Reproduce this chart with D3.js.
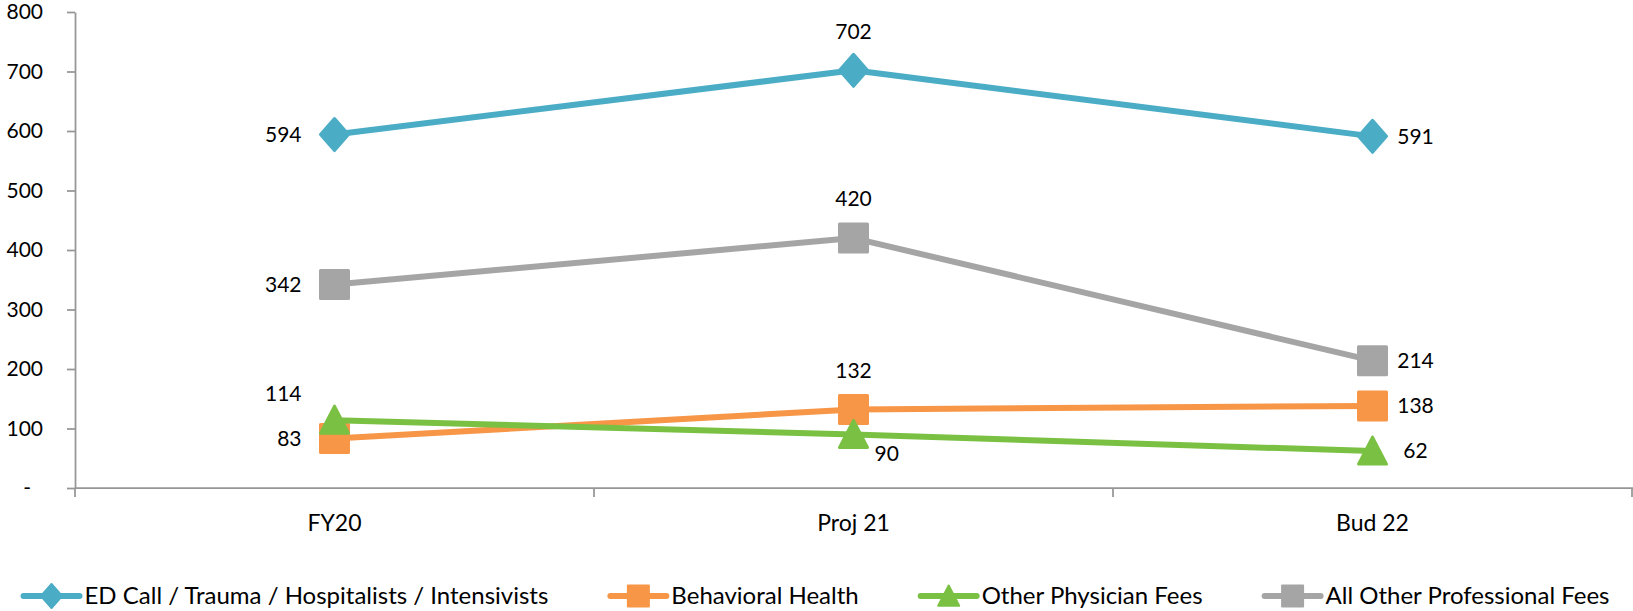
<!DOCTYPE html>
<html>
<head>
  <title>Professional Fees</title>
  <script src="https://d3js.org/d3.v7.min.js"></script>
  <style type="text/css">
    body {
      margin: 0;
      background-color: #ffffff;
    }
    svg text {
      font-family: Lato, "Open Sans", sans-serif;
      font-size: 21px;
      fill: #000000;
    }
    .axis path, .axis line {
      stroke: #969696;
      stroke-width: 1.75px;
    }
    .xlabel { font-size: 23px; }
    .legend text { font-size: 24px; }
  </style>
</head>
<body>
<div id="chart"></div>

<script>
  // data
  var categories = ["FY20", "Proj 21", "Bud 22"];
  var seriesNames = ["ED Call / Trauma / Hospitalists / Intensivists", "Behavioral Health", "Other Physician Fees", "All Other Professional Fees"];
  var edCall = [594, 702, 591];
  var behavioral = [83, 132, 138];
  var otherPhysician = [114, 90, 62];
  var allOther = [342, 420, 214];
  var yTicks = [0, 100, 200, 300, 400, 500, 600, 700, 800];

  var seriesValues = [edCall, behavioral, otherPhysician, allOther];
  var colors = ["#4BACC6", "#F79646", "#7AC143", "#A5A5A5"];
  var shapes = ["diamond", "square", "triangle", "square"];
  // where each data label sits relative to its point
  var labelPos = [
    ["left", "above", "right"],
    ["left", "above", "right"],
    ["upleft", "downright", "right"],
    ["left", "above", "right"]
  ];

  var width = 1633, height = 611;
  var svg = d3.select("#chart").append("svg").attr("width", width).attr("height", height);

  var x = d3.scaleBand().domain(categories).range([75, 1632]);
  var y = d3.scaleLinear().domain([0, 800]).range([488, 12]);

  // marker paths, centred on 0,0
  function markerPath(shape, s) {
    if (shape === "diamond") {
      return "M0," + (-16 * s) + "L" + (14 * s) + ",0L0," + (16 * s) + "L" + (-14 * s) + ",0Z";
    } else if (shape === "square") {
      return "M" + (-14 * s) + "," + (-14 * s) + "H" + (14 * s) + "V" + (14 * s) + "H" + (-14 * s) + "Z";
    } else {
      return "M0," + (-14 * s) + "L" + (14 * s) + "," + (13 * s) + "H" + (-14 * s) + "Z";
    }
  }

  // y axis
  var yAxis = svg.append("g").attr("class", "axis").attr("transform", "translate(75,0)")
    .call(d3.axisLeft(y).tickValues(yTicks).tickSize(8).tickSizeOuter(0).tickPadding(24)
      .tickFormat(function (d) { return d === 0 ? "-" : d; }));
  yAxis.selectAll("text").attr("x", function (d) { return d === 0 ? -44 : -32; });

  // x axis: line, ticks at category boundaries, labels at centres
  var xAxis = svg.append("g").attr("class", "axis").attr("transform", "translate(0,488)");
  xAxis.append("line").attr("x1", 75).attr("x2", 1633).attr("y1", 0).attr("y2", 0);
  var bounds = categories.map(function (c) { return x(c); }).concat([x(categories[2]) + x.bandwidth()]);
  xAxis.selectAll(".btick").data(bounds).enter().append("line")
    .attr("x1", function (d) { return d; }).attr("x2", function (d) { return d; })
    .attr("y1", 0).attr("y2", 9);
  xAxis.selectAll(".xlabel").data(categories).enter().append("text")
    .attr("class", "xlabel")
    .attr("x", function (d) { return x(d) + x.bandwidth() / 2; })
    .attr("y", 35).attr("dy", "0.35em").attr("text-anchor", "middle")
    .text(function (d) { return d; });

  var cx = function (i) { return x(categories[i]) + x.bandwidth() / 2; };

  var line = d3.line()
    .x(function (d, i) { return cx(i); })
    .y(function (d) { return y(d); });

  // series
  seriesValues.forEach(function (vals, s) {
    var g = svg.append("g");
    g.append("path").datum(vals).attr("d", line)
      .attr("fill", "none").attr("stroke", colors[s]).attr("stroke-width", 6).attr("stroke-linejoin", "round");
    g.selectAll(".marker").data(vals).enter().append("path")
      .attr("transform", function (d, i) { return "translate(" + cx(i) + "," + y(d) + ")"; })
      .attr("d", markerPath(shapes[s], 1))
      .attr("fill", colors[s]).attr("stroke", colors[s]).attr("stroke-width", 3).attr("stroke-linejoin", "round");
  });

  // data labels
  seriesValues.forEach(function (vals, s) {
    svg.append("g").selectAll("text").data(vals).enter().append("text")
      .attr("x", function (d, i) {
        var p = labelPos[s][i];
        if (p === "left" || p === "upleft") return cx(i) - 33;
        if (p === "right") return cx(i) + 43;
        if (p === "downright") return cx(i) + 21;
        return cx(i);
      })
      .attr("y", function (d, i) {
        var p = labelPos[s][i];
        if (p === "above") return y(d) - 39;
        if (p === "upleft") return y(d) - 27;
        if (p === "downright") return y(d) + 19;
        return y(d);
      })
      .attr("dy", "0.35em")
      .attr("text-anchor", function (d, i) {
        var p = labelPos[s][i];
        if (p === "left" || p === "upleft") return "end";
        if (p === "downright") return "start";
        return "middle";
      })
      .text(function (d) { return d; });
  });

  // legend, centred
  var legend = svg.append("g").attr("class", "legend");
  var items = legend.selectAll(".item").data(seriesNames).enter().append("g");
  items.append("line").attr("x1", 0).attr("x2", 56).attr("y1", 0).attr("y2", 0)
    .attr("stroke", function (d, i) { return colors[i]; }).attr("stroke-width", 6).attr("stroke-linecap", "round");
  items.append("path").attr("transform", "translate(28,0)")
    .attr("d", function (d, i) { return markerPath(shapes[i], 0.75); })
    .attr("fill", function (d, i) { return colors[i]; })
    .attr("stroke", function (d, i) { return colors[i]; }).attr("stroke-width", 2).attr("stroke-linejoin", "round");
  items.append("text").attr("x", 61).attr("dy", "0.35em").text(function (d) { return d; });

  var pos = 0, total;
  items.each(function () {
    var w = 61 + d3.select(this).select("text").node().getComputedTextLength();
    d3.select(this).attr("transform", "translate(" + pos + ",0)");
    pos += w + 62;
  });
  total = pos - 62;
  legend.attr("transform", "translate(" + ((width - total) / 2) + ",596)");
</script>
</body>
</html>
